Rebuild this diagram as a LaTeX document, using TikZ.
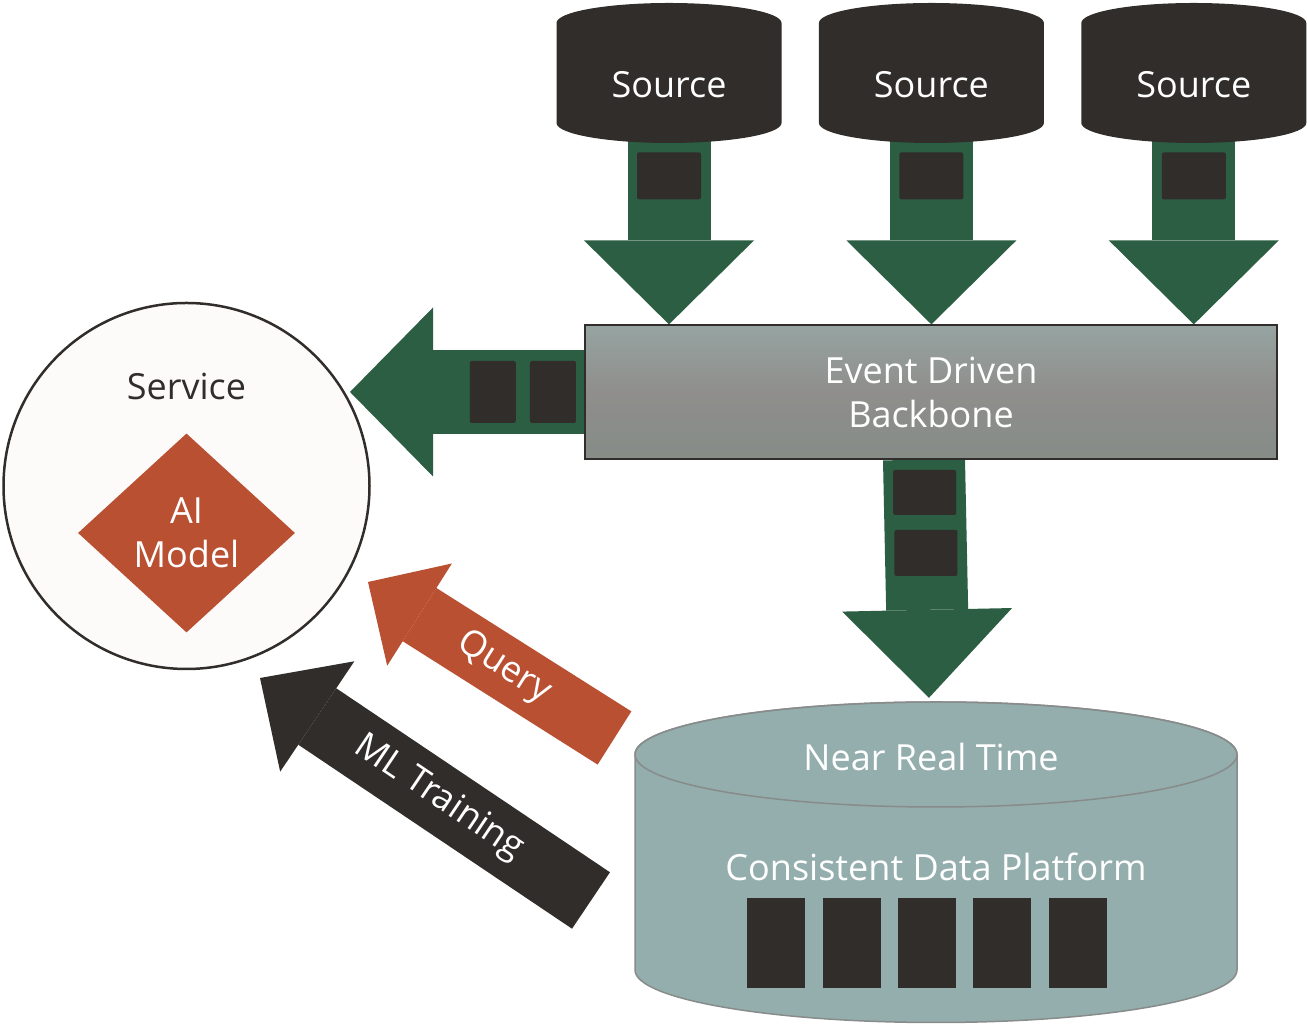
\documentclass[tikz,border=0pt]{standalone}
\usepackage{fontspec}
\setmainfont{Open Sans}
\usetikzlibrary{shapes.geometric,arrows.meta,positioning}
\definecolor{ink}{RGB}{49,45,42}
\definecolor{pine}{RGB}{43,94,66}
\definecolor{rust}{RGB}{185,80,50}
\definecolor{lake}{RGB}{148,174,173}
\definecolor{lakeline}{RGB}{135,140,138}
\definecolor{bbtop}{RGB}{150,164,161}
\definecolor{bbmid}{RGB}{143,142,140}
\definecolor{bbbot}{RGB}{134,140,135}
\definecolor{paper}{RGB}{252,251,250}
\pgfdeclarelayer{background}
\pgfsetlayers{background,main}
\tikzset{
  txt/.style     ={font=\fontsize{36}{44}\selectfont, text=white, align=center},
  drum/.style    ={txt, rectangle, minimum width=225pt, minimum height=140pt, inner sep=0pt,
                   text height=50pt, text depth=0pt,
                   path picture={\fill[ink] ([yshift=-20pt]path picture bounding box.north west)
                     -- ([yshift=20pt]path picture bounding box.south west)
                     arc[start angle=180, end angle=360, x radius=112.5pt, y radius=20pt]
                     -- ([yshift=-20pt]path picture bounding box.north east)
                     arc[start angle=0, end angle=180, x radius=112.5pt, y radius=20pt] -- cycle;}},
  store/.style   ={txt, rectangle, minimum width=604pt, minimum height=323pt, inner sep=0pt,
                   text height=36pt, text depth=0pt,
                   path picture={
                     \filldraw[fill=lake, draw=lakeline, line width=1.5pt]
                       ([shift={(-301pt,108pt)}]path picture bounding box.center) -- ++(0,-215.5pt)
                       arc[start angle=180, end angle=360, x radius=301pt, y radius=52.5pt]
                       -- ++(0,215.5pt)
                       arc[start angle=0, end angle=180, x radius=301pt, y radius=52.5pt] -- cycle;
                     \draw[lakeline, line width=1.5pt] ([yshift=108pt]path picture bounding box.center)
                       ellipse[x radius=301pt, y radius=52.5pt];}},
  backbone/.style={txt, rectangle, draw=ink, line width=1.2pt, minimum width=692pt,
                   minimum height=134pt, top color=bbtop, bottom color=bbbot, middle color=bbmid},
  service/.style ={circle, draw=ink, line width=2.5pt, fill=paper, minimum size=366pt, inner sep=0pt},
  model/.style   ={txt, diamond, fill=rust, minimum width=217pt, minimum height=199pt, inner sep=0pt},
  chip/.style    ={rectangle, fill=ink, rounded corners=2pt, minimum width=64pt,
                   minimum height=47pt, inner sep=0pt},
  block/.style   ={rectangle, fill=ink, minimum width=58pt, minimum height=90pt, inner sep=0pt},
  flow/.style    ={draw=pine, line width=83pt,
                   -{Triangle[length=84pt, width=170pt, line width=0pt]}},
  query/.style   ={draw=rust, line width=63pt,
                   -{Triangle[length=61pt, width=121pt, line width=0pt]}},
  train/.style   ={draw=ink, line width=68pt,
                   -{Triangle[length=69pt, width=133pt, line width=0pt]}}
}

\begin{document}
\begin{tikzpicture}[x=1pt, y=1pt]
  \useasboundingbox (0,0) rectangle (1307,1024);

  \node (src1) [drum] at (669,951)           {Source};
  \node (src2) [drum, right=37pt of src1]    {Source};
  \node (src3) [drum, right=37pt of src2]    {Source};
  \node (bb)   [backbone] at (931,632)       {Event Driven\\Backbone};
  \node (cdp)  [store] at (936,161.5)        {Consistent Data Platform};
  \node (nrt)  [txt] at ([xshift=-5pt, yshift=-56pt]cdp.north) {Near Real Time};
  \node (blk3) [block] at ([shift={(-9pt,-80.5pt)}]cdp.center) {};
  \node (blk2) [block, left=17pt of blk3]    {};
  \node (blk1) [block, left=17pt of blk2]    {};
  \node (blk4) [block, right=17pt of blk3]   {};
  \node (blk5) [block, right=17pt of blk4]   {};
  \coordinate (svc-in)  at (350,632);
  \coordinate (q-tail)  at (614.5,286);
  \coordinate (q-tip)   at (368,442);
  \coordinate (ml-tail) at (591,123.5);
  \coordinate (ml-tip)  at (260,346);

  \begin{pgfonlayer}{background}
    \node (svc) [service] at (186.5,538) {};
    \draw [flow, shorten <=-6pt] (src1) -- (src1 |- bb.north) node[chip, pos=0.18] {};
    \draw [flow, shorten <=-6pt] (src2) -- (src2 |- bb.north) node[chip, pos=0.18] {};
    \draw [flow, shorten <=-6pt] (src3) -- (src3 |- bb.north) node[chip, pos=0.18] {};
    \draw [flow, line width=84pt, -{Triangle[length=83pt, width=169pt, line width=0pt]}]
      (bb) -- (svc-in)
      node[chip, minimum width=46pt, minimum height=62pt, pos=0.134] {}
      node[chip, minimum width=46pt, minimum height=62pt, pos=0.391] {};
    \draw [flow, line width=82pt, -{Triangle[length=88pt, width=170pt, line width=0pt]}]
      ([xshift=-7pt]bb.south) -- ([xshift=-7pt, yshift=3pt]cdp.north)
      node[chip, minimum width=63pt, minimum height=45pt, pos=0.138] {}
      node[chip, minimum width=63pt, minimum height=46pt, pos=0.392] {};
  \end{pgfonlayer}

  \draw [query] (q-tail) -- (q-tip) node[txt, sloped, pos=0.45] {Query};
  \draw [train] (ml-tail) -- (ml-tip) node[txt, sloped, pos=0.46] {ML Training};

  \node (svcname) [txt, text=ink] at ([yshift=-85pt]svc.north) {Service};
  \node (aim)     [model] at ([yshift=-47pt]svc.center)      {AI\\Model};
\end{tikzpicture}
\end{document}
